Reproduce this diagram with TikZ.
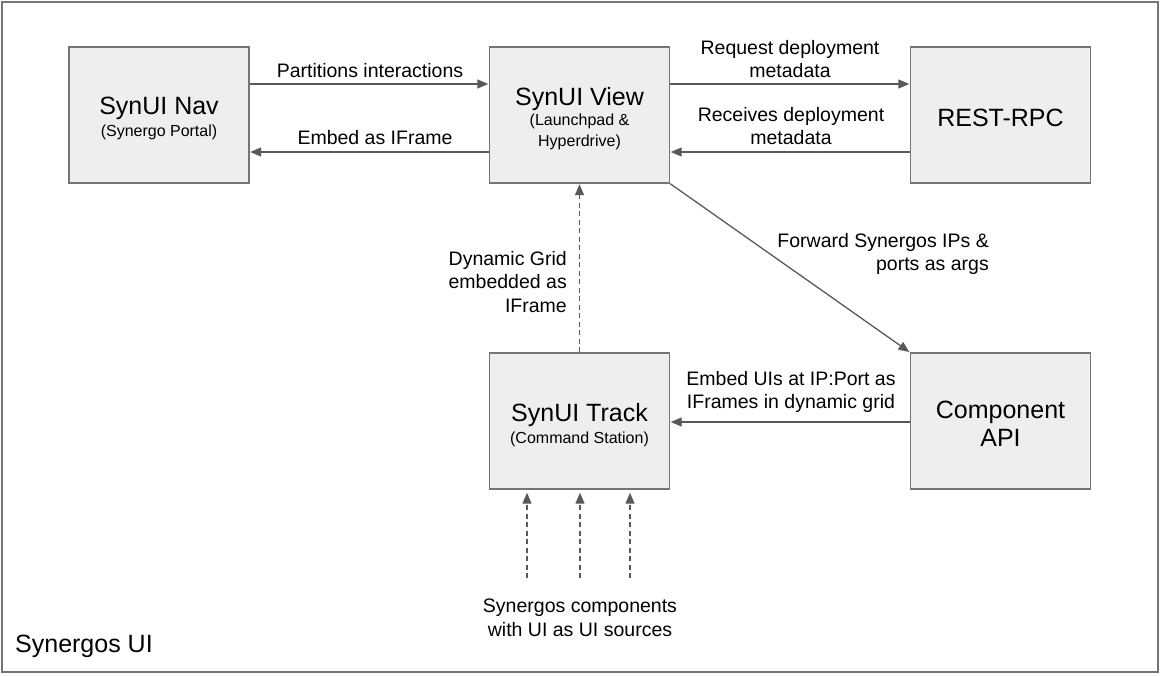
\documentclass[tikz,border=0pt]{standalone}
\usepackage{fontspec}
\setmainfont{Liberation Sans}
\usetikzlibrary{arrows.meta}
\definecolor{edge}{HTML}{595959}
\definecolor{boxfill}{HTML}{EEEEEE}
\definecolor{boxline}{HTML}{757575}
\begin{document}
\begin{tikzpicture}[x=1pt,y=-1pt,
  box/.style={draw=boxline,fill=boxfill,line width=1.4pt,minimum width=180pt,minimum height=136pt,inner sep=0pt},
  title/.style={font=\fontsize{25}{29}\selectfont,inner sep=0pt,anchor=center},
  sub/.style={font=\fontsize{16}{20.5}\selectfont,inner sep=0pt,align=center},
  lbl/.style={font=\fontsize{19.5}{23.5}\selectfont,inner sep=0pt,align=center},
  conn/.style={draw=edge,line width=1.3pt,-{Triangle[length=11pt,width=9pt]},shorten >=0.5pt},
  dconn/.style={conn,dash pattern=on 5pt off 3.5pt}
]
\useasboundingbox (0,0) rectangle (1161,675);
\draw[boxline,line width=1.4pt] (2,2) rectangle (1158,672);

\node[box] (nav) at (159,115) {};
\node[box] (view) at (579.5,115) {};
\node[box] (rest) at (1000.5,115) {};
\node[box] (track) at (579.5,421) {};
\node[box] (api) at (1000.5,421) {};

\node[title] (navt) at (159,108) {SynUI Nav};
\node[sub] (navs) at (159,132) {(Synergo Portal)};
\node[title] (viewt) at (579.5,99) {SynUI View};
\node[sub] (views) at (579.5,132) {(Launchpad \&\\Hyperdrive)};
\node[title] (restt) at (1000.5,118) {REST-RPC};
\node[title] (trackt) at (579.5,415) {SynUI Track};
\node[sub] (tracks) at (579.5,439) {(Command Station)};
\node[title,align=center,font=\fontsize{25}{28}\selectfont] (apit) at (1000.5,424) {Component\\API};

\draw[conn] ([yshift=31pt]nav.east) -- ([yshift=31pt]view.west);
\draw[conn] ([yshift=-37pt]view.west) -- ([yshift=-37pt]nav.east);
\draw[conn] ([yshift=31pt]view.east) -- ([yshift=31pt]rest.west);
\draw[conn] ([yshift=-37pt]rest.west) -- ([yshift=-37pt]view.east);
\draw[conn] (view.south east) -- (api.north west);
\draw[conn] ([yshift=-1pt]api.west) -- ([yshift=-1pt]track.west -| track.east);
\draw[dconn] (track.north) -- (view.south);

\coordinate (s1) at (527,578);
\coordinate (s2) at (580,578);
\coordinate (s3) at (630,578);
\draw[dconn,shorten >=3pt] (s1) -- (s1 |- track.south);
\draw[dconn,shorten >=3pt] (s2) -- (s2 |- track.south);
\draw[dconn,shorten >=3pt] (s3) -- (s3 |- track.south);

\node[lbl] (l1) at (370,71) {Partitions interactions};
\node[lbl] (l2) at (375,138) {Embed as IFrame};
\node[lbl] (l3) at (790,59) {Request deployment\\metadata};
\node[lbl] (l4) at (791,126) {Receives deployment\\metadata};
\node[lbl,align=right,anchor=east] (l5) at (989,254) {Forward Synergos IPs \&\\ports as args};
\node[lbl,align=right,anchor=east] (l6) at (567,282) {Dynamic Grid\\embedded as\\IFrame};
\node[lbl] (l7) at (791,392) {Embed UIs at IP:Port as\\IFrames in dynamic grid};
\node[lbl] (l8) at (580,618) {Synergos components\\with UI as UI sources};
\node[font=\fontsize{25}{29}\selectfont,inner sep=0pt,anchor=west] (frame) at (15,646) {Synergos UI};
\end{tikzpicture}
\end{document}
